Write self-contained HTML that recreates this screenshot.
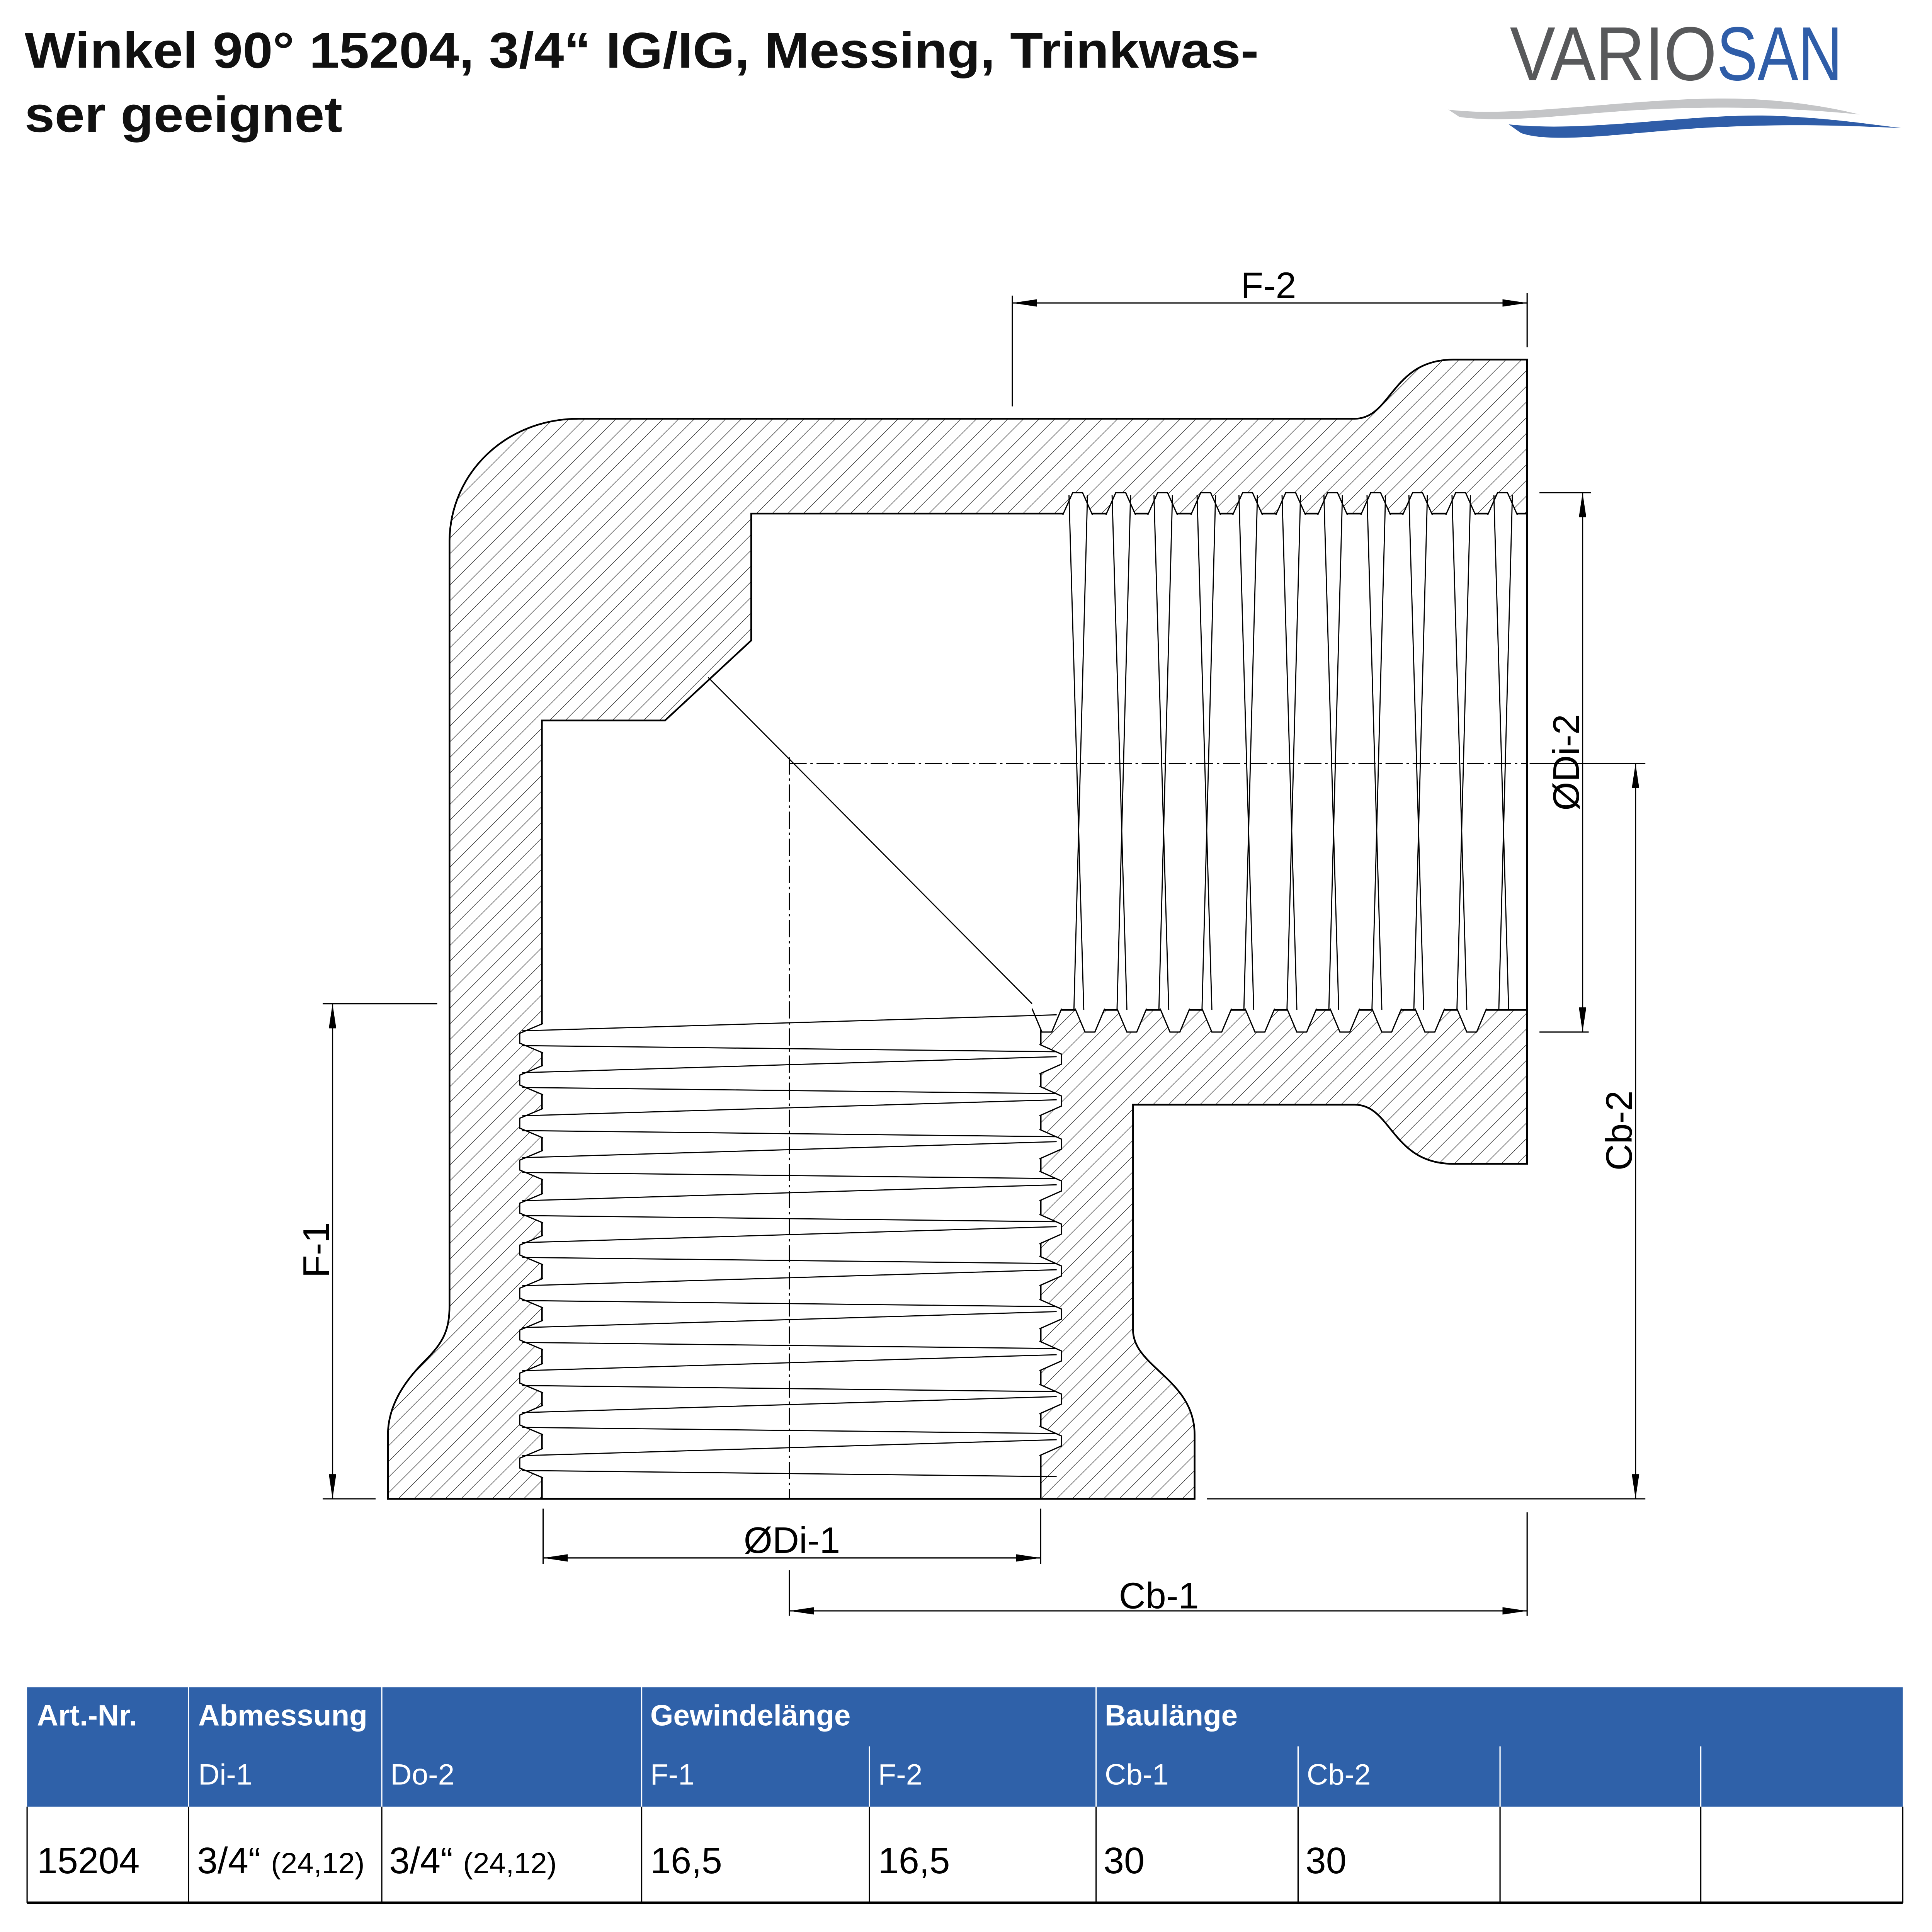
<!DOCTYPE html>
<html><head><meta charset="utf-8"><style>
html,body{margin:0;padding:0;background:#fff;overflow:hidden;width:5208px;height:5208px;}
svg{display:block;position:absolute;left:0;top:0;}
</style></head><body>
<svg width="5208" height="5208" viewBox="0 0 1634 1634" xmlns="http://www.w3.org/2000/svg" font-family="'Liberation Sans', sans-serif">
<defs>
<pattern id="h" width="9" height="9" patternUnits="userSpaceOnUse" patternTransform="rotate(45)">
<line x1="0" y1="0" x2="0" y2="9" stroke="#222" stroke-width="0.8"/>
</pattern>
<marker id="a" viewBox="0 0 20 6" refX="20" refY="3" markerWidth="20" markerHeight="6" markerUnits="userSpaceOnUse" orient="auto-start-reverse">
<path d="M0,0 L20,3 L0,6 Z" fill="#000"/>
</marker>
</defs>

<text x="20" y="55" font-size="41" font-weight="bold" fill="#111" textLength="1002" lengthAdjust="spacingAndGlyphs">Winkel 90° 15204, 3/4“ IG/IG, Messing, Trinkwas-</text>
<text x="20" y="107" font-size="41" font-weight="bold" fill="#111" textLength="258" lengthAdjust="spacingAndGlyphs">ser geeignet</text>

<text x="1226" y="65" font-size="62" fill="#58595b" textLength="168" lengthAdjust="spacingAndGlyphs">VARIO</text>
<text x="1394" y="65" font-size="62" fill="#2f5da8" textLength="102" lengthAdjust="spacingAndGlyphs">SAN</text>
<path d="M1176,89 C1230,96 1320,80 1400,80 C1450,80 1490,88 1510,93 C1470,89 1420,86 1360,88 C1290,90 1230,101 1185,95 Z" fill="#c4c5c7"/>
<path d="M1225,101 C1290,108 1370,92 1440,94 C1490,96 1525,102 1545,104 C1500,102 1450,100 1380,104 C1320,108 1260,117 1235,108 Z" fill="#2f5da8"/>

<path d="M315,1217 L315,1165 C315,1140 330,1120 345,1105 C360,1090 365,1080 365,1060 L365,440 C365,385 410,340 470,340 L1100,340 C1130,340 1130,292 1180,292 L1240,292 L1240,945 L1180,945 C1130,945 1130,897 1100,897 L920,897 L920,1080 C920,1110 970,1120 970,1165 L970,1217 Z" fill="url(#h)" stroke="#000" stroke-width="1.4"/>
<path d="M440,1217 L440,585 L540,585 L610,520 L610,417 L1240,417 L1240,820 L845,820 L845,1217 Z" fill="#fff" stroke="#000" stroke-width="1.4"/>

<g fill="#fff" stroke="#000" stroke-width="1">
<polyline points="863,418 871,400 879,400 887,418"/>
<polyline points="898,418 906,400 914,400 922,418"/>
<polyline points="932,418 940,400 948,400 956,418"/>
<polyline points="967,418 975,400 983,400 991,418"/>
<polyline points="1001,418 1009,400 1017,400 1025,418"/>
<polyline points="1036,418 1044,400 1052,400 1060,418"/>
<polyline points="1070,418 1078,400 1086,400 1094,418"/>
<polyline points="1105,418 1113,400 1121,400 1129,418"/>
<polyline points="1139,418 1147,400 1155,400 1163,418"/>
<polyline points="1174,418 1182,400 1190,400 1198,418"/>
<polyline points="1208,418 1216,400 1224,400 1232,418"/>
<polyline points="838,819 846,838 854,838 862,819"/>
<polyline points="873,819 881,838 889,838 897,819"/>
<polyline points="907,819 915,838 923,838 931,819"/>
<polyline points="942,819 950,838 958,838 966,819"/>
<polyline points="976,819 984,838 992,838 1000,819"/>
<polyline points="1011,819 1019,838 1027,838 1035,819"/>
<polyline points="1045,819 1053,838 1061,838 1069,819"/>
<polyline points="1080,819 1088,838 1096,838 1104,819"/>
<polyline points="1114,819 1122,838 1130,838 1138,819"/>
<polyline points="1149,819 1157,838 1165,838 1173,819"/>
<polyline points="1183,819 1191,838 1199,838 1207,819"/>
<polyline points="441,831 422,839 422,847 441,855"/>
<polyline points="441,865 422,873 422,881 441,889"/>
<polyline points="441,900 422,908 422,916 441,924"/>
<polyline points="441,934 422,942 422,950 441,958"/>
<polyline points="441,969 422,977 422,985 441,993"/>
<polyline points="441,1003 422,1011 422,1019 441,1027"/>
<polyline points="441,1038 422,1046 422,1054 441,1062"/>
<polyline points="441,1072 422,1080 422,1088 441,1096"/>
<polyline points="441,1107 422,1115 422,1123 441,1131"/>
<polyline points="441,1141 422,1149 422,1157 441,1165"/>
<polyline points="441,1176 422,1184 422,1192 441,1200"/>
<polyline points="844,848 862,856 862,864 844,872"/>
<polyline points="844,882 862,890 862,898 844,906"/>
<polyline points="844,917 862,925 862,933 844,941"/>
<polyline points="844,951 862,959 862,967 844,975"/>
<polyline points="844,986 862,994 862,1002 844,1010"/>
<polyline points="844,1020 862,1028 862,1036 844,1044"/>
<polyline points="844,1055 862,1063 862,1071 844,1079"/>
<polyline points="844,1089 862,1097 862,1105 844,1113"/>
<polyline points="844,1124 862,1132 862,1140 844,1148"/>
<polyline points="844,1158 862,1166 862,1174 844,1182"/>
</g>

<g stroke="#000" stroke-width="0.9" fill="none">
<path d="M868,402 L880,820 M883,402 L872,820 M903,402 L915,820 M918,402 L907,820 M937,402 L949,820 M952,402 L941,820 M972,402 L984,820 M987,402 L976,820 M1006,402 L1018,820 M1021,402 L1010,820 M1041,402 L1053,820 M1056,402 L1045,820 M1075,402 L1087,820 M1090,402 L1079,820 M1110,402 L1122,820 M1125,402 L1114,820 M1144,402 L1156,820 M1159,402 L1148,820 M1179,402 L1191,820 M1194,402 L1183,820 M1213,402 L1225,820 M1228,402 L1217,820"/>
<path d="M424,837 L858,824 M424,849 L858,854 M424,871 L858,858 M424,883 L858,888 M424,906 L858,893 M424,918 L858,923 M424,940 L858,927 M424,952 L858,957 M424,975 L858,962 M424,987 L858,992 M424,1009 L858,996 M424,1021 L858,1026 M424,1044 L858,1031 M424,1056 L858,1061 M424,1078 L858,1065 M424,1090 L858,1095 M424,1113 L858,1100 M424,1125 L858,1130 M424,1147 L858,1134 M424,1159 L858,1164 M424,1182 L858,1169 M424,1194 L858,1199"/>
<path d="M575,550 L838,815"/>
</g>
<g stroke="#000" stroke-width="0.8" stroke-dasharray="14,3,2,3" fill="none">
<path d="M641,615 L641,1217"/>
<path d="M641,620 L1240,620"/>
</g>

<g stroke="#000" stroke-width="1" fill="none">
<path d="M822,240 L822,330 M1240,238 L1240,282"/>
<path d="M822,246 L1240,246" marker-start="url(#a)" marker-end="url(#a)"/>
<path d="M1250,400 L1292,400 M1250,838 L1290,838"/>
<path d="M1285,400 L1285,838" marker-start="url(#a)" marker-end="url(#a)"/>
<path d="M1242,620 L1336,620 M980,1217 L1336,1217"/>
<path d="M1328,620 L1328,1217" marker-start="url(#a)" marker-end="url(#a)"/>
<path d="M262,815 L355,815 M262,1217 L305,1217"/>
<path d="M270,815 L270,1217" marker-start="url(#a)" marker-end="url(#a)"/>
<path d="M441,1225 L441,1270 M845,1225 L845,1270"/>
<path d="M441,1265 L845,1265" marker-start="url(#a)" marker-end="url(#a)"/>
<path d="M641,1275 L641,1312 M1240,1228 L1240,1312"/>
<path d="M641,1308 L1240,1308" marker-start="url(#a)" marker-end="url(#a)"/>
</g>
<g font-size="30" fill="#000" text-anchor="middle">
<text x="1030" y="242">F-2</text>
<text x="643" y="1261">ØDi-1</text>
<text x="941" y="1306">Cb-1</text>
<text transform="translate(1282,619) rotate(-90)">ØDi-2</text>
<text transform="translate(1325,918) rotate(-90)">Cb-2</text>
<text transform="translate(267,1015) rotate(-90)">F-1</text>
</g>

<rect x="22" y="1370" width="1523" height="97" fill="#2f61a9"/>
<g stroke="#fff" stroke-width="1">
<path d="M153,1370 V1467 M310,1370 V1467 M521,1370 V1467 M890,1370 V1467 M706,1418 V1467 M1054,1418 V1467 M1218,1418 V1467 M1381,1418 V1467"/>
</g>
<g stroke="#000" stroke-width="1">
<path d="M22,1467 V1545 M153,1467 V1545 M310,1467 V1545 M521,1467 V1545 M706,1467 V1545 M890,1467 V1545 M1054,1467 V1545 M1218,1467 V1545 M1381,1467 V1545 M1545,1467 V1545"/>
<path d="M22,1545 H1545" stroke-width="2"/>
</g>
<g font-size="24" fill="#fff" font-weight="bold">
<text x="30" y="1401">Art.-Nr.</text>
<text x="161" y="1401">Abmessung</text>
<text x="528" y="1401">Gewindelänge</text>
<text x="897" y="1401">Baulänge</text>
</g>
<g font-size="24" fill="#fff">
<text x="161" y="1449">Di-1</text>
<text x="317" y="1449">Do-2</text>
<text x="528" y="1449">F-1</text>
<text x="713" y="1449">F-2</text>
<text x="897" y="1449">Cb-1</text>
<text x="1061" y="1449">Cb-2</text>
</g>
<g font-size="30" fill="#000">
<text x="30" y="1521">15204</text>
<text x="160" y="1521">3/4“ <tspan font-size="24">(24,12)</tspan></text>
<text x="316" y="1521">3/4“ <tspan font-size="24">(24,12)</tspan></text>
<text x="528" y="1521">16,5</text>
<text x="713" y="1521">16,5</text>
<text x="896" y="1521">30</text>
<text x="1060" y="1521">30</text>
</g>
</svg>
</body></html>
